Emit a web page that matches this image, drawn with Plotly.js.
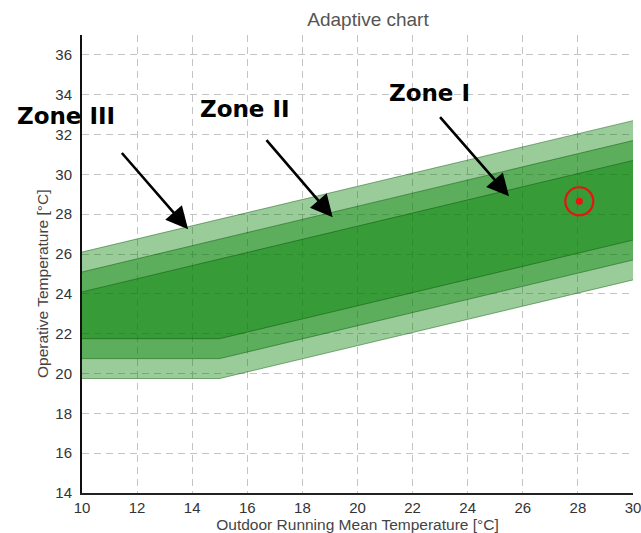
<!DOCTYPE html>
<html>
<head>
<meta charset="utf-8">
<script src="https://cdn.plot.ly/plotly-3.0.1.min.js"></script>
<style>html,body{margin:0;padding:0;background:#fff;overflow:hidden;}#chart{width:641px;height:533px;}</style>
</head>
<body>
<div id="chart"></div>
<script>
// Outdoor running mean temperature breakpoints
var trm = [10, 15, 30];
// Zone boundaries (operative temperature, °C)
var zone3Upper = [26.1, 27.75, 32.7];
var zone2Upper = [25.1, 26.75, 31.7];
var zone1Upper = [24.1, 25.75, 30.7];
var zone1Lower = [21.75, 21.75, 26.7];
var zone2Lower = [20.75, 20.75, 25.7];
var zone3Lower = [19.75, 19.75, 24.7];
// Measured point
var pointX = [28.05];
var pointY = [28.65];
// Labels
var zoneLabels = ["Zone III", "Zone II", "Zone I"];

var fillCol = "rgba(0,128,0,0.4)";
var edge = {color: "rgba(0,80,0,0.45)", width: 1};

function band(lower, upper) {
  return [
    {x: trm, y: lower, type: "scatter", mode: "lines", line: edge, hoverinfo: "skip", showlegend: false},
    {x: trm, y: upper, type: "scatter", mode: "lines", line: edge, fill: "tonexty", fillcolor: fillCol, hoverinfo: "skip", showlegend: false}
  ];
}

var data = [].concat(
  band(zone3Lower, zone3Upper),
  band(zone2Lower, zone2Upper),
  band(zone1Lower, zone1Upper),
  [
    {x: pointX, y: pointY, type: "scatter", mode: "markers", marker: {symbol: "circle-open", size: 28, color: "#e8140f", line: {width: 2.2, color: "#e8140f"}}, showlegend: false},
    {x: pointX, y: pointY, type: "scatter", mode: "markers", marker: {symbol: "circle", size: 7, color: "#f01010"}, showlegend: false}
  ]
);

var W = 641, H = 533, L = 82, R = 8, T = 35, B = 40;
function px(xp) { return (xp - L) / (W - L - R); }
function py(yp) { return (H - B - yp) / (H - T - B); }

var zoneFont = {family: "DejaVu Sans", size: 23, color: "#000"};
var arrowStyle = {arrowhead: 2, arrowsize: 1.7, arrowwidth: 2.6, arrowcolor: "#000", standoff: 0};
function arrow(hx, hy, tx, ty) {
  return Object.assign({x: hx, y: hy, ax: tx, ay: ty, axref: "x", ayref: "y", text: "", showarrow: true}, arrowStyle);
}
var annotations = [
  {xref: "paper", yref: "paper", x: px(66), y: py(116), text: "<b>" + zoneLabels[0] + "</b>", showarrow: false, font: zoneFont, xanchor: "center", yanchor: "middle"},
  {xref: "paper", yref: "paper", x: px(245), y: py(109), text: "<b>" + zoneLabels[1] + "</b>", showarrow: false, font: zoneFont, xanchor: "center", yanchor: "middle"},
  {xref: "paper", yref: "paper", x: px(429), y: py(93), text: "<b>" + zoneLabels[2] + "</b>", showarrow: false, font: zoneFont, xanchor: "center", yanchor: "middle"},
  arrow(13.85, 27.25, 11.4, 31.15),
  arrow(19.1, 27.85, 16.65, 31.8),
  arrow(25.5, 28.9, 22.95, 32.95),
  {xref: "paper", yref: "paper", x: (42 - L) / (W - L - R), y: py(284), text: "Operative Temperature [°C]", textangle: -90, showarrow: false, font: {family: "Liberation Sans", size: 15.5, color: "#444"}, xanchor: "center", yanchor: "middle"}
];

var layout = {
  width: W, height: H,
  margin: {l: L, r: R, t: T, b: B},
  paper_bgcolor: "#fff", plot_bgcolor: "#fff",
  font: {family: "Liberation Sans", color: "#333"},
  title: {text: "Adaptive chart", x: 368 / W, xanchor: "center", xref: "container", y: 1 - 19 / H, yanchor: "middle", yref: "container", font: {family: "Liberation Sans", size: 19, color: "#555"}},
  xaxis: {
    range: [10, 30], tick0: 10, dtick: 2, showgrid: true, gridcolor: "#c4c4c4", griddash: "7px,5px", gridwidth: 1,
    zeroline: false, showline: true, linecolor: "#222", linewidth: 2, ticks: "",
    tickfont: {size: 15, color: "#333"}, ticklabeloverflow: "allow", automargin: false,
    title: {text: "Outdoor Running Mean Temperature [°C]", font: {size: 15.5, color: "#444"}, standoff: 2}
  },
  yaxis: {
    range: [14, 37], tick0: 14, dtick: 2, showgrid: true, gridcolor: "#c4c4c4", griddash: "7px,5px", gridwidth: 1,
    zeroline: false, showline: true, linecolor: "#111", linewidth: 2, ticks: "",
    tickfont: {size: 15, color: "#333"}, ticklabelstandoff: 5, automargin: false
  },
  annotations: annotations,
  showlegend: false
};

Plotly.newPlot("chart", data, layout, {staticPlot: true, displayModeBar: false});
</script>
</body>
</html>
